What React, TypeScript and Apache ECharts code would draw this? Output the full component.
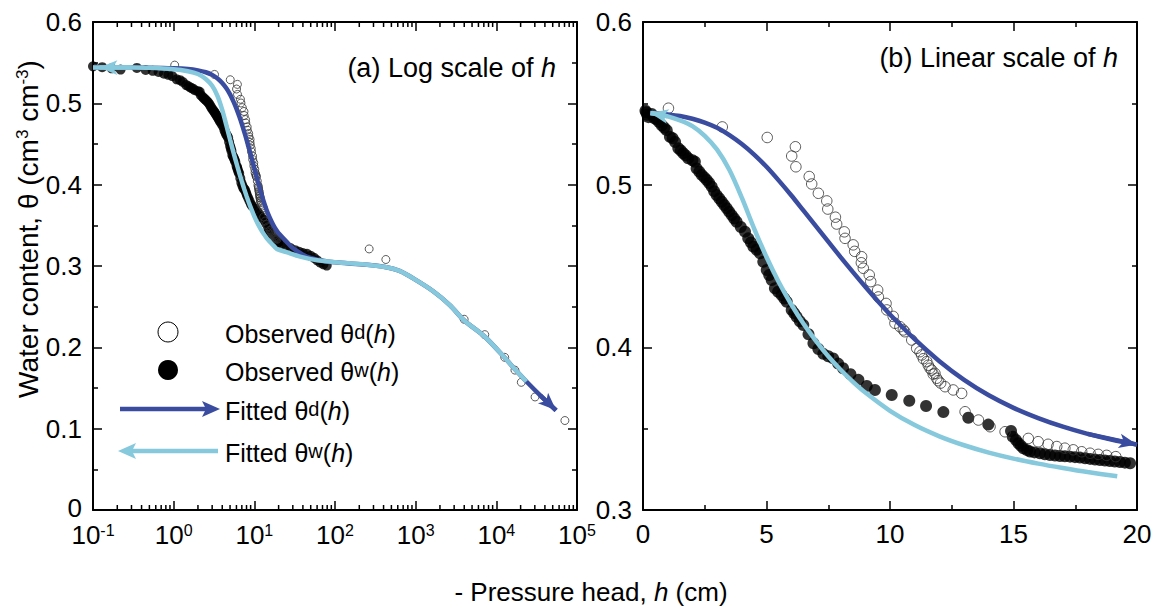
import React, { useEffect, useRef } from 'react';
import * as echarts from 'echarts';

const FONT = '"Liberation Sans", Arial, Helvetica, sans-serif';
const DARK = '#3a4c9f';
const LIGHT = '#86c8dc';
const TICK_FS = 26;
const TEXT_FS = 25;
const TITLE_FS = 27;
const YNAME_FS = 28;

// Observed drying branch theta^d(h)
const obsDryH = [1.03, 3.21, 5.03, 6.02, 6.17, 6.19, 6.73, 6.83, 7.10, 7.44, 7.48, 7.79, 7.84, 8.15, 8.18, 8.51, 8.57, 8.84, 8.85, 8.92, 9.16, 9.22, 9.50, 9.53, 9.84, 9.87, 10.13, 10.20, 10.40, 10.54, 10.60, 10.88, 11.08, 11.21, 11.28, 11.35, 11.49, 11.55, 11.62, 11.69, 11.75, 11.82, 11.89, 11.95, 12.05, 12.23, 12.56, 12.90, 13.04, 13.58, 14.05, 14.66, 15.60, 16.00, 16.40, 16.75, 17.08, 17.42, 17.76, 18.10, 18.43, 18.77, 19.14, 265, 427, 3990, 7190, 12700, 17000, 20400, 30200, 70800];
const obsDryTheta = [0.547, 0.5355, 0.529, 0.5176, 0.5233, 0.511, 0.505, 0.5004, 0.4947, 0.490, 0.485, 0.480, 0.4758, 0.471, 0.467, 0.463, 0.459, 0.452, 0.4557, 0.4486, 0.4445, 0.4404, 0.4352, 0.431, 0.427, 0.423, 0.419, 0.4148, 0.4127, 0.4107, 0.4096, 0.4045, 0.3994, 0.3973, 0.3953, 0.393, 0.3912, 0.389, 0.3871, 0.386, 0.3835, 0.384, 0.381, 0.3795, 0.378, 0.3758, 0.3738, 0.3717, 0.3604, 0.3553, 0.3512, 0.3481, 0.344, 0.342, 0.3404, 0.339, 0.338, 0.337, 0.3358, 0.3349, 0.3342, 0.3336, 0.3328, 0.321, 0.308, 0.2345, 0.2156, 0.1877, 0.172, 0.157, 0.139, 0.110];

// Observed wetting branch theta^w(h)
const obsWetH = [0.10, 0.13, 0.17, 0.22, 0.35, 0.45, 0.55, 0.65, 0.76, 0.86, 0.96, 1.09, 1.20, 1.30, 1.43, 1.53, 1.63, 1.73, 1.83, 2.00, 2.10, 2.17, 2.28, 2.38, 2.48, 2.58, 2.68, 2.78, 2.88, 2.98, 3.09, 3.19, 3.29, 3.39, 3.49, 3.59, 3.69, 3.79, 3.96, 4.13, 4.26, 4.37, 4.47, 4.60, 4.74, 4.87, 5.01, 5.11, 5.21, 5.34, 5.47, 5.61, 5.72, 5.82, 6.02, 6.12, 6.22, 6.35, 6.49, 6.70, 6.90, 7.10, 7.30, 7.50, 7.70, 7.90, 8.10, 8.40, 8.72, 9.06, 9.39, 10.07, 10.78, 11.46, 12.16, 13.17, 13.98, 14.90, 14.97, 15.10, 15.20, 15.30, 15.40, 15.55, 15.67, 15.85, 16.07, 16.27, 16.48, 16.68, 16.88, 17.08, 17.29, 17.49, 17.69, 17.90, 18.10, 18.30, 18.50, 18.70, 18.90, 19.10, 19.31, 19.51, 19.72, 22, 25, 28, 32, 36, 40, 45, 50, 55, 60, 66, 72, 79];
const obsWetTheta = [0.5455, 0.5445, 0.5430, 0.5415, 0.5435, 0.5410, 0.5400, 0.5385, 0.5365, 0.5350, 0.5335, 0.5295, 0.5285, 0.5262, 0.5224, 0.5210, 0.5193, 0.5180, 0.5162, 0.5150, 0.5141, 0.5100, 0.5080, 0.5060, 0.5045, 0.5029, 0.5010, 0.4988, 0.4960, 0.4936, 0.4915, 0.4895, 0.4875, 0.4855, 0.4834, 0.4813, 0.4792, 0.4772, 0.4740, 0.4711, 0.4670, 0.4645, 0.4619, 0.4600, 0.4578, 0.4526, 0.4475, 0.4445, 0.4414, 0.4363, 0.4342, 0.4322, 0.4300, 0.4280, 0.4230, 0.4210, 0.4188, 0.4160, 0.4137, 0.4080, 0.4025, 0.3990, 0.3960, 0.3945, 0.3932, 0.3900, 0.3871, 0.3835, 0.3800, 0.3762, 0.3738, 0.3707, 0.3672, 0.3639, 0.3602, 0.3567, 0.3525, 0.3486, 0.3451, 0.3430, 0.3410, 0.3395, 0.3379, 0.3368, 0.3359, 0.3354, 0.3349, 0.3343, 0.3338, 0.3335, 0.3332, 0.3330, 0.3328, 0.3325, 0.3322, 0.3318, 0.3314, 0.3310, 0.3307, 0.3304, 0.3301, 0.3298, 0.3295, 0.3291, 0.3287, 0.3270, 0.3245, 0.3220, 0.3195, 0.3175, 0.3160, 0.3150, 0.3125, 0.3100, 0.3070, 0.3040, 0.3020, 0.3005];

// Fitted drying curve theta^d(h)
const fitDryH = [0.1, 0.3, 0.5, 1, 1.5, 2, 2.5, 3, 3.5, 4, 4.5, 5, 5.5, 6, 6.5, 7, 7.5, 8, 8.5, 9, 9.5, 10, 11, 12, 13, 14, 15, 16, 17, 18, 19, 20, 25, 30, 40, 50, 70, 100, 150, 250, 400, 630, 1000, 1650, 2650, 4000, 7200, 12900, 17000, 23600, 35000, 55000];
const fitDryTheta = [0.5440, 0.5440, 0.5439, 0.5432, 0.5422, 0.5405, 0.5382, 0.5350, 0.5305, 0.5250, 0.5185, 0.5110, 0.5025, 0.4935, 0.4840, 0.4745, 0.4650, 0.4555, 0.4462, 0.4372, 0.4285, 0.4202, 0.4050, 0.3915, 0.3800, 0.3705, 0.3628, 0.3565, 0.3512, 0.3468, 0.3432, 0.3402, 0.3300, 0.3220, 0.3140, 0.3100, 0.3065, 0.3045, 0.3030, 0.3015, 0.2990, 0.2940, 0.2830, 0.2690, 0.2520, 0.2330, 0.2130, 0.1865, 0.1730, 0.1580, 0.1410, 0.1225];

// Fitted wetting curve theta^w(h)
const fitWetH = [0.1, 0.12, 0.3, 0.5, 1, 1.5, 2, 2.5, 3, 3.5, 4, 4.5, 5, 5.5, 6, 6.5, 7, 7.5, 8, 8.5, 9, 10, 11, 12, 13, 14, 15, 16, 17, 18, 19.2, 25, 37, 60, 95, 150, 250, 400, 630, 1000, 1650, 2650, 4000, 7200, 12900, 17000, 23600];
const fitWetTheta = [0.5440, 0.5440, 0.5440, 0.5437, 0.5420, 0.5395, 0.5360, 0.5300, 0.5215, 0.5090, 0.4920, 0.4730, 0.4555, 0.4400, 0.4265, 0.4145, 0.4040, 0.3945, 0.3862, 0.3788, 0.3722, 0.3610, 0.3522, 0.3453, 0.3398, 0.3353, 0.3316, 0.3285, 0.3258, 0.3233, 0.3207, 0.3170, 0.3115, 0.3070, 0.3050, 0.3033, 0.3015, 0.2990, 0.2940, 0.2830, 0.2690, 0.2520, 0.2330, 0.2130, 0.1865, 0.1730, 0.1580];

// Axes
const logExponents = [-1, 0, 1, 2, 3, 4, 5];
const logMinorMultipliers = [2, 3, 4, 5, 6, 7, 8, 9];
const linXTickLabels = ['0', '5', '10', '15', '20'];
const leftYTickLabels = ['0', '0.1', '0.2', '0.3', '0.4', '0.5', '0.6'];
const rightYTickLabels = ['0.3', '0.4', '0.5', '0.6'];

const LEFT_Y = [0, 0.6];
const RIGHT_Y = [0.3, 0.6];
const RIGHT_X = [0, 20];

const zip = (h: number[], t: number[]) => h.map((v, i) => [v, t[i]]);
const point = (h: number[], t: number[], v: number) => {
  const i = h.indexOf(v);
  return [h[i], t[i]];
};

const minorLogTicks: number[] = [];
for (let e = logExponents[0]; e < logExponents[logExponents.length - 1]; e++) {
  for (const m of logMinorMultipliers) minorLogTicks.push(m * Math.pow(10, e));
}

function arrowLine(color: string, from: number[], to: number[]) {
  return {
    silent: true,
    animation: false,
    symbol: ['none', 'arrow'],
    label: { show: false },
    emphasis: { disabled: true },
    lineStyle: { color, width: 4.5, type: 'solid', opacity: 1 },
    data: [[{ coord: from, symbol: 'none' }, { coord: to, symbol: 'arrow', symbolSize: [11, 18] }]],
  };
}

const tickLine = { show: true, inside: true, length: 9, lineStyle: { color: '#000', width: 1.5 } };
const minorTickLine = { show: true, inside: true, length: 5, splitNumber: 2, lineStyle: { color: '#000', width: 1.5 } };
const axisLineStyle = { show: true, onZero: false, lineStyle: { color: '#000', width: 2 } };

const superRich = {
  b: { fontSize: TICK_FS, fontFamily: FONT, color: '#000' },
  s: { fontSize: 16, fontFamily: FONT, color: '#000', verticalAlign: 'top' },
};

function buildOption() {
  const dryAll = zip(obsDryH, obsDryTheta);
  const wetAll = zip(obsWetH, obsWetTheta);
  const fitDryAll = zip(fitDryH, fitDryTheta);
  const fitWetAll = zip(fitWetH, fitWetTheta);
  const inRight = (p: number[]) => p[0] >= RIGHT_X[0] && p[0] <= RIGHT_X[1];
  const fitRight = (p: number[]) => p[0] >= 0.3 && p[0] <= RIGHT_X[1];

  const textRich = (fs: number) => ({
    n: { fontSize: fs, fontFamily: FONT, color: '#000' },
    i: { fontSize: fs, fontFamily: FONT, color: '#000', fontStyle: 'italic' },
    s: { fontSize: Math.round(fs * 0.62), fontFamily: FONT, color: '#000', verticalAlign: 'top' },
    sl: { fontSize: Math.round(fs * 0.8), fontFamily: FONT, color: '#000', verticalAlign: 'top' },
  });

  const legendText = (y: number, head: string, sup: string) => ({
    type: 'text',
    x: 225,
    y,
    style: {
      text: `{n|${head} θ}{sl|${sup}}{n|(}{i|h}{n|)}`,
      rich: textRich(TEXT_FS),
      align: 'left',
      verticalAlign: 'middle',
    },
  });

  return {
    animation: false,
    backgroundColor: '#ffffff',
    textStyle: { fontFamily: FONT },
    grid: [
      { left: 93, top: 22, width: 484, height: 488 },
      { left: 643, top: 22, width: 494, height: 488 },
    ],
    xAxis: [
      {
        type: 'log', gridIndex: 0, logBase: 10, min: Math.pow(10, logExponents[0]), max: Math.pow(10, logExponents[logExponents.length - 1]),
        splitNumber: 6, position: 'bottom', axisLine: axisLineStyle, axisTick: tickLine,
        splitLine: { show: false },
        axisLabel: {
          interval: 0, margin: 12, hideOverlap: false,
          formatter: (v: number) => `{b|10}{s|${Math.round(Math.log10(v))}}`,
          rich: superRich,
        },
      },
      {
        type: 'log', gridIndex: 0, logBase: 10, min: Math.pow(10, logExponents[0]), max: Math.pow(10, logExponents[logExponents.length - 1]),
        splitNumber: 6, position: 'top', axisLine: axisLineStyle, axisTick: tickLine,
        splitLine: { show: false }, axisLabel: { show: false },
      },
      {
        type: 'value', gridIndex: 1, min: RIGHT_X[0], max: RIGHT_X[1], interval: 5, position: 'bottom',
        axisLine: axisLineStyle, axisTick: tickLine, minorTick: minorTickLine,
        splitLine: { show: false }, minorSplitLine: { show: false },
        axisLabel: {
          margin: 11, fontSize: TICK_FS, fontFamily: FONT, color: '#000',
          formatter: (v: number) => linXTickLabels[Math.round(v / 5)],
        },
      },
      {
        type: 'value', gridIndex: 1, min: RIGHT_X[0], max: RIGHT_X[1], interval: 5, position: 'top',
        axisLine: axisLineStyle, axisTick: tickLine, minorTick: minorTickLine,
        splitLine: { show: false }, axisLabel: { show: false },
      },
    ],
    yAxis: [
      {
        type: 'value', gridIndex: 0, min: LEFT_Y[0], max: LEFT_Y[1], interval: 0.1, position: 'left',
        axisLine: axisLineStyle, axisTick: tickLine, minorTick: minorTickLine,
        splitLine: { show: false },
        axisLabel: {
          margin: 11, fontSize: TICK_FS, lineHeight: 20, fontFamily: FONT, color: '#000',
          formatter: (v: number) => {
            const i = Math.round(v * 10);
            return i === 0 ? `{z|${leftYTickLabels[i]}}` : leftYTickLabels[i];
          },
          rich: {
            z: { fontSize: TICK_FS, fontFamily: FONT, color: '#000', lineHeight: 20, padding: [0, 0, 5, 0] },
          },
        },
      },
      {
        type: 'value', gridIndex: 0, min: LEFT_Y[0], max: LEFT_Y[1], interval: 0.1, position: 'right',
        axisLine: axisLineStyle, axisTick: tickLine, minorTick: minorTickLine,
        splitLine: { show: false }, axisLabel: { show: false },
      },
      {
        type: 'value', gridIndex: 1, min: RIGHT_Y[0], max: RIGHT_Y[1], interval: 0.1, position: 'left',
        axisLine: axisLineStyle, axisTick: tickLine, minorTick: minorTickLine,
        splitLine: { show: false },
        axisLabel: {
          margin: 11, fontSize: TICK_FS, lineHeight: 20, fontFamily: FONT, color: '#000',
          formatter: (v: number) => rightYTickLabels[Math.round(v * 10) - 3],
        },
      },
      {
        type: 'value', gridIndex: 1, min: RIGHT_Y[0], max: RIGHT_Y[1], interval: 0.1, position: 'right',
        axisLine: axisLineStyle, axisTick: tickLine, minorTick: minorTickLine,
        splitLine: { show: false }, axisLabel: { show: false },
      },
    ],
    series: [
      // minor log ticks on left panel (bottom & top)
      {
        type: 'custom', xAxisIndex: 0, yAxisIndex: 0, silent: true, clip: false, z: 10,
        data: minorLogTicks.map((v) => [v, LEFT_Y[0]]),
        renderItem: (_p: any, api: any) => {
          const v = api.value(0);
          const b = api.coord([v, LEFT_Y[0]]);
          const t = api.coord([v, LEFT_Y[1]]);
          const st = { stroke: '#000', lineWidth: 1.5 };
          return {
            type: 'group',
            children: [
              { type: 'line', shape: { x1: b[0], y1: b[1], x2: b[0], y2: b[1] - 5 }, style: st },
              { type: 'line', shape: { x1: t[0], y1: t[1], x2: t[0], y2: t[1] + 5 }, style: st },
            ],
          };
        },
      },
      // Left panel
      {
        type: 'scatter', xAxisIndex: 0, yAxisIndex: 0, z: 2, symbolSize: 10, silent: true,
        itemStyle: { color: '#000' }, data: wetAll,
      },
      {
        type: 'scatter', xAxisIndex: 0, yAxisIndex: 0, z: 2, symbolSize: 8, silent: true,
        itemStyle: { color: 'rgba(255,255,255,0)', borderColor: '#333', borderWidth: 1 }, data: dryAll,
      },
      {
        type: 'line', xAxisIndex: 0, yAxisIndex: 0, z: 3, showSymbol: false, smooth: 0.3, silent: true,
        lineStyle: { color: DARK, width: 4.5 }, data: fitDryAll,
        markLine: arrowLine(DARK, point(fitDryH, fitDryTheta, 35000), point(fitDryH, fitDryTheta, 55000)),
      },
      {
        type: 'line', xAxisIndex: 0, yAxisIndex: 0, z: 4, showSymbol: false, smooth: 0.3, silent: true,
        lineStyle: { color: LIGHT, width: 4.5 }, data: fitWetAll,
        markLine: arrowLine(LIGHT, point(fitWetH, fitWetTheta, 0.3), point(fitWetH, fitWetTheta, 0.12)),
      },
      // Right panel
      {
        type: 'scatter', xAxisIndex: 2, yAxisIndex: 2, z: 2, symbolSize: 12, silent: true,
        itemStyle: { color: '#000' }, data: wetAll.filter(inRight),
      },
      {
        type: 'scatter', xAxisIndex: 2, yAxisIndex: 2, z: 2, symbolSize: 10.5, silent: true,
        itemStyle: { color: 'rgba(255,255,255,0)', borderColor: '#333', borderWidth: 1 }, data: dryAll.filter(inRight),
      },
      {
        type: 'line', xAxisIndex: 2, yAxisIndex: 2, z: 3, showSymbol: false, smooth: 0.3, silent: true,
        lineStyle: { color: DARK, width: 4.5 }, data: fitDryAll.filter(fitRight),
        markLine: arrowLine(DARK, point(fitDryH, fitDryTheta, 18), point(fitDryH, fitDryTheta, 20)),
      },
      {
        type: 'line', xAxisIndex: 2, yAxisIndex: 2, z: 4, showSymbol: false, smooth: 0.3, silent: true,
        lineStyle: { color: LIGHT, width: 4.5 }, data: fitWetAll.filter(fitRight),
        markLine: arrowLine(LIGHT, point(fitWetH, fitWetTheta, 1), point(fitWetH, fitWetTheta, 0.3)),
      },
    ],
    graphic: [
      // panel titles
      {
        type: 'text', x: 556, y: 68,
        style: { text: '{n|(a) Log scale of }{i|h}', rich: textRich(TITLE_FS), align: 'right', verticalAlign: 'middle' },
      },
      {
        type: 'text', x: 1118, y: 58,
        style: { text: '{n|(b) Linear scale of }{i|h}', rich: textRich(TITLE_FS), align: 'right', verticalAlign: 'middle' },
      },
      // axis names
      {
        type: 'text', x: 28, y: 229, rotation: Math.PI / 2,
        style: {
          text: '{n|Water content, θ (cm}{s|3}{n| cm}{s|-3}{n|)}',
          rich: textRich(YNAME_FS), align: 'center', verticalAlign: 'middle',
        },
      },
      {
        type: 'text', x: 591, y: 592,
        style: { text: '{n|- Pressure head, }{i|h}{n| (cm)}', rich: textRich(TICK_FS), align: 'center', verticalAlign: 'middle' },
      },
      // legend
      { type: 'circle', shape: { cx: 168, cy: 332, r: 10 }, style: { fill: '#fff', stroke: '#000', lineWidth: 1 } },
      { type: 'circle', shape: { cx: 168, cy: 370, r: 10 }, style: { fill: '#000' } },
      { type: 'line', shape: { x1: 120, y1: 409, x2: 206, y2: 409 }, style: { stroke: DARK, lineWidth: 4.5 } },
      { type: 'polygon', shape: { points: [[220, 409], [202, 401], [206, 409], [202, 417]] }, style: { fill: DARK } },
      { type: 'line', shape: { x1: 132, y1: 451, x2: 218, y2: 451 }, style: { stroke: LIGHT, lineWidth: 4.5 } },
      { type: 'polygon', shape: { points: [[118, 451], [136, 443], [132, 451], [136, 459]] }, style: { fill: LIGHT } },
      legendText(334, 'Observed', 'd'),
      legendText(372, 'Observed', 'w'),
      legendText(411, 'Fitted', 'd'),
      legendText(453, 'Fitted', 'w'),
    ],
  };
}

export default function App() {
  const ref = useRef<HTMLDivElement>(null);
  useEffect(() => {
    if (!ref.current) return;
    const chart = echarts.init(ref.current, null, { renderer: 'svg' });
    chart.setOption(buildOption() as any);
    return () => chart.dispose();
  }, []);
  return (
    <div
      ref={ref}
      style={{ position: 'fixed', left: 0, top: 0, width: 1156, height: 607, background: '#fff' }}
    />
  );
}
